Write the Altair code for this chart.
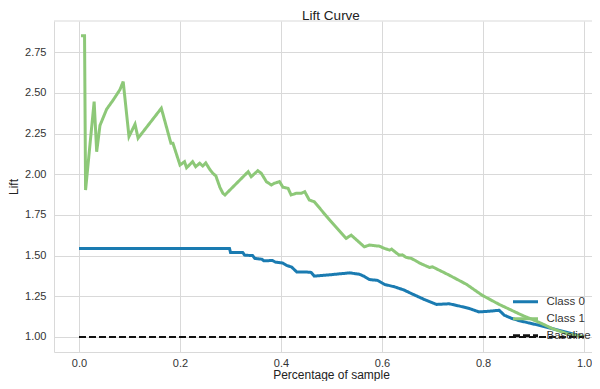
import altair as alt
import pandas as pd

# ---- data ----
class0_x = [0.0, 0.298, 0.300, 0.324, 0.328, 0.344, 0.348, 0.362, 0.366, 0.383, 0.389,
            0.403, 0.411, 0.421, 0.431, 0.447, 0.456, 0.460, 0.466, 0.496, 0.536, 0.545,
            0.555, 0.565, 0.575, 0.591, 0.605, 0.625, 0.644, 0.658, 0.684, 0.708, 0.733,
            0.753, 0.773, 0.792, 0.812, 0.832, 0.842, 0.856, 0.872, 0.891, 0.911, 0.951, 1.0]
class0_lift = [1.544, 1.544, 1.52, 1.52, 1.503, 1.50, 1.483, 1.478, 1.468, 1.47, 1.46,
               1.455, 1.44, 1.43, 1.40, 1.40, 1.398, 1.396, 1.374, 1.382, 1.394, 1.39,
               1.386, 1.372, 1.353, 1.348, 1.323, 1.308, 1.288, 1.267, 1.23, 1.20, 1.204,
               1.19, 1.175, 1.154, 1.158, 1.164, 1.134, 1.115, 1.10, 1.086, 1.072, 1.04, 1.0]

class1_x = [0.004, 0.011, 0.013, 0.030, 0.035, 0.0415, 0.0547, 0.0678, 0.081, 0.0875,
            0.099, 0.111, 0.117, 0.163, 0.182, 0.186, 0.200, 0.209, 0.213, 0.225, 0.231,
            0.239, 0.245, 0.251, 0.259, 0.265, 0.271, 0.279, 0.285, 0.289, 0.335, 0.341,
            0.354, 0.361, 0.371, 0.381, 0.387, 0.397, 0.404, 0.414, 0.420, 0.430, 0.440,
            0.447, 0.456, 0.466, 0.496, 0.529, 0.539, 0.565, 0.575, 0.595, 0.605, 0.615,
            0.619, 0.634, 0.640, 0.648, 0.658, 0.667, 0.674, 0.694, 0.700, 0.733, 0.767,
            0.798, 0.832, 0.877, 0.911, 0.937, 0.966, 1.0]
class1_lift = [2.852, 2.852, 1.903, 2.447, 2.139, 2.30, 2.40, 2.457, 2.52, 2.570,
               2.232, 2.308, 2.222, 2.406, 2.191, 2.191, 2.057, 2.078, 2.04, 2.078, 2.047,
               2.068, 2.051, 2.07, 2.03, 2.006, 1.99, 1.92, 1.883, 1.873, 2.016, 1.985,
               2.022, 2.006, 1.955, 1.934, 1.945, 1.955, 1.92, 1.914, 1.873, 1.883, 1.883,
               1.893, 1.842, 1.831, 1.72, 1.606, 1.626, 1.554, 1.565, 1.558, 1.544, 1.534,
               1.54, 1.503, 1.505, 1.489, 1.483, 1.468, 1.455, 1.427, 1.431, 1.38, 1.324,
               1.257, 1.20, 1.134, 1.09, 1.052, 1.02, 1.0]

baseline_x = [0.0, 1.0]
baseline_lift = [1.0, 1.0]

series_names = ["Class 0", "Class 1", "Baseline"]
series_colors = ["#1a7bb1", "#8dc878", "#111111"]
series_dash = [[1, 0], [1, 0], [7, 3]]
x_ticks = [0.0, 0.2, 0.4, 0.6, 0.8, 1.0]
y_ticks = [1.0, 1.25, 1.5, 1.75, 2.0, 2.25, 2.5, 2.75]

frames = []
for name, xs, ys in zip(series_names,
                        [class0_x, class1_x, baseline_x],
                        [class0_lift, class1_lift, baseline_lift]):
    frames.append(pd.DataFrame({"x": xs, "lift": ys, "series": name,
                                "idx": list(range(len(xs)))}))
df = pd.concat(frames, ignore_index=True)

GRID = "#d9d9d9"
FONT = "Liberation Sans"
VIEW_W = 538
VIEW_H = 331

x_enc = alt.X("x:Q",
              scale=alt.Scale(domain=[-0.0495, 1.0158], nice=False, zero=False),
              axis=alt.Axis(values=x_ticks, format=".1f", title="Percentage of sample",
                            ticks=False, domain=True, domainColor=GRID,
                            labelPadding=5, labelFlush=False,
                            titleX=277, titleY=26, titleBaseline="alphabetic",
                            titleAlign="center"))
y_enc = alt.Y("lift:Q",
              scale=alt.Scale(domain=[0.9075, 2.9425], nice=False, zero=False),
              axis=alt.Axis(values=y_ticks, format=".2f", title="Lift",
                            ticks=False, domain=True, domainColor=GRID,
                            labelPadding=8, titlePadding=4))
legend = alt.Legend(title=None, orient="none", legendX=457.5, legendY=272.5,
                    symbolType="stroke", symbolSize=625, symbolStrokeWidth=3,
                    labelFontSize=11.5, labelFont=FONT, labelColor="#333333",
                    clipHeight=16.5, rowPadding=0, padding=0, labelOffset=7)
color_enc = alt.Color("series:N", scale=alt.Scale(domain=series_names, range=series_colors),
                      legend=legend)
dash_enc = alt.StrokeDash("series:N", scale=alt.Scale(domain=series_names, range=series_dash),
                          legend=legend)

base = alt.Chart(df)
layers = []
for name, w in zip(series_names, [3, 3, 2]):
    layers.append(
        base.transform_filter(alt.datum.series == name)
        .mark_line(strokeWidth=w)
        .encode(x=x_enc, y=y_enc, color=color_enc, strokeDash=dash_enc, order="idx:Q")
    )

top_border = alt.Chart(pd.DataFrame({"a": [0]})).mark_rule(color=GRID, strokeWidth=1).encode(
    x=alt.value(0), x2=alt.value(VIEW_W), y=alt.value(0))

chart = alt.layer(top_border, *layers).properties(
    width=VIEW_W, height=VIEW_H,
    padding={"left": 46, "top": 13, "right": 0, "bottom": 29},
    autosize=alt.AutoSizeParams(type="none"),
    background="white",
    title=alt.TitleParams("Lift Curve", fontSize=13.5, font=FONT, fontWeight="normal",
                          color="#222222", anchor="middle", frame="group", dx=8,
                          offset=-2),
).configure_view(stroke=None).configure_axis(
    gridColor=GRID, gridWidth=1, labelFont=FONT, labelFontSize=11, labelColor="#333333",
    titleFont=FONT, titleFontSize=12, titleFontWeight="normal", titleColor="#222222",
)

chart.save("out.html", embed_options={"renderer": "svg", "actions": False})
